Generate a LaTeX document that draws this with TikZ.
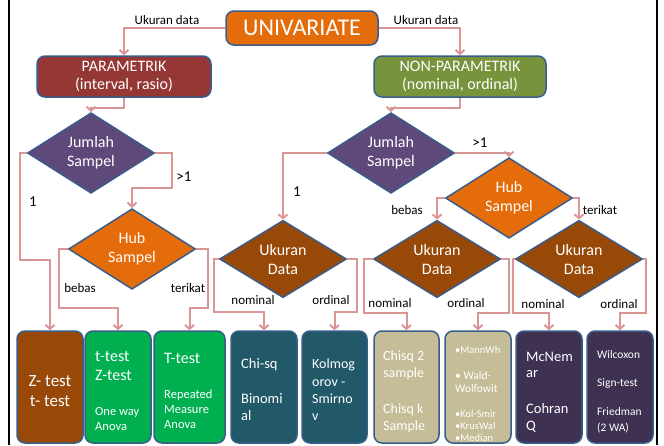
\documentclass[tikz,border=0pt]{standalone}
\usepackage{fontspec}
\setmainfont{Carlito}
\usetikzlibrary{shapes.geometric,arrows.meta}

\definecolor{cUniv}{HTML}{E46C0A}
\definecolor{cParam}{HTML}{953735}
\definecolor{cNon}{HTML}{77933C}
\definecolor{cJum}{HTML}{5F497A}
\definecolor{cUkur}{HTML}{984807}
\definecolor{cGreen}{HTML}{00B050}
\definecolor{cTeal}{HTML}{215968}
\definecolor{cTan}{HTML}{C4BD97}
\definecolor{cPurp}{HTML}{3F3151}
\definecolor{edge}{HTML}{385D8A}
\definecolor{link}{HTML}{DA9694}

\newcommand\fs[2]{\fontsize{#1}{#2}\selectfont}
% one line of white text inside a result box, placed by its baseline
\newcommand\bline[6][base west]{\node[anchor=#1, inner sep=0pt, text=white, font=\fs{#5}{#5}] (#2) at (#3,#4) {#6};}

\begin{document}
\begin{tikzpicture}[x=1pt, y=-1pt,
  rbox/.style={draw=edge, line width=1.5pt, rounded corners=8pt, inner sep=0pt},
  dia/.style={diamond, draw=edge, line width=1.5pt, minimum width=127pt, minimum height=71pt,
              inner sep=0pt, text=white, align=center, font=\fs{16}{19}},
  res/.style={rbox, minimum width=66pt, minimum height=112pt},
  conn/.style={draw=link, line width=2pt, -{Straight Barb[length=4pt,width=9pt]}},
  lbl/.style={inner sep=0pt, text=black, font=\fs{13}{15}},
  num/.style={inner sep=0pt, text=black, font=\fs{15}{17}}]
\useasboundingbox (0,0) rectangle (664,445);

% page frame sides
\draw[line width=2pt] (8.5,0) -- (8.5,445);
\draw[line width=2pt] (657,0) -- (657,445);

% top level
\node[rbox, fill=cUniv, minimum width=152pt, minimum height=34pt, text=white, font=\fs{24}{28}] (univ) at (302,28) {UNIVARIATE};
\node[rbox, fill=cParam, minimum width=174pt, minimum height=41pt, text=white, align=center, font=\fs{16}{18}] (param) at (124,76.5) {PARAMETRIK\\(interval, rasio)};
\node[rbox, fill=cNon, minimum width=172pt, minimum height=41pt, text=white, align=center, font=\fs{16}{18}] (nonparam) at (460,76.5) {NON-PARAMETRIK\\(nominal, ordinal)};

% decisions
\node[dia, fill=cJum] (j1) at (91,153) {Jumlah\\Sampel};
\node[dia, fill=cJum] (j2) at (391,153) {Jumlah\\Sampel};
\node[dia, fill=cUniv] (h1) at (132,249) {Hub\\Sampel};
\node[dia, fill=cUniv] (h2) at (509,198) {Hub\\Sampel};
\node[dia, fill=cUkur] (u1) at (283,259) {Ukuran\\Data};
\node[dia, fill=cUkur] (u2) at (437,259) {Ukuran\\Data};
\node[dia, fill=cUkur] (u3) at (579,259) {Ukuran\\Data};

% result boxes
\node[res, fill=cUkur] (b1) at (50,387) {};
\node[res, fill=cGreen] (b2) at (118,387) {};
\node[res, fill=cGreen, minimum width=71pt] (b3) at (189.5,387) {};
\node[res, fill=cTeal] (b4) at (264,387) {};
\node[res, fill=cTeal, minimum width=65pt] (b5) at (334.5,387) {};
\node[res, fill=cTan, minimum width=65pt] (b6) at (406.5,387) {};
\node[res, fill=cTan] (b7) at (478,387) {};
\node[res, fill=cPurp] (b8) at (549,387) {};
\node[res, fill=cPurp] (b9) at (620,387) {};

% box texts
\bline[base]{t1a}{50}{386}{17}{Z- test}
\bline[base]{t1b}{50}{406}{17}{t- test}
\bline{t2a}{95}{361}{16}{t-test}
\bline{t2b}{95}{380}{16}{Z-test}
\bline{t2c}{95}{415}{12.5}{One way}
\bline{t2d}{95}{430}{12.5}{Anova}
\bline{t3a}{164}{363}{16}{T-test}
\bline{t3b}{164}{398}{12.5}{Repeated}
\bline{t3c}{164}{413}{12.5}{Measure}
\bline{t3d}{164}{428}{12.5}{Anova}
\bline{t4a}{241}{368}{14.5}{Chi-sq}
\bline{t4b}{241}{403}{14.5}{Binomi}
\bline{t4c}{241}{420}{14.5}{al}
\bline{t5a}{312}{368}{14}{Kolmog}
\bline{t5b}{312}{386}{14}{orov -}
\bline{t5c}{312}{403}{14}{Smirno}
\bline{t5d}{312}{420}{14}{v}
\bline{t6a}{383}{360}{14}{Chisq 2}
\bline{t6b}{383}{377}{14}{sample}
\bline{t6c}{383}{413}{14}{Chisq k}
\bline{t6d}{383}{430}{14}{Sample}
\bline{t7a}{455}{353}{10.5}{•MannWh}
\bline{t7b}{455}{379}{11.5}{• Wald-}
\bline{t7c}{455}{392}{11.5}{Wolfowit}
\bline{t7d}{455}{417}{10.5}{•Kol-Smir}
\bline{t7e}{455}{429}{10.5}{•KrusWal}
\bline{t7f}{455}{441}{10.5}{•Median}
\bline{t8a}{526}{361}{14.5}{McNem}
\bline{t8b}{526}{377}{14.5}{ar}
\bline{t8c}{526}{413}{14.5}{Cohran}
\bline{t8d}{526}{430}{14.5}{Q}
\bline{t9a}{597}{358}{11.5}{Wilcoxon}
\bline{t9b}{597}{386}{11.5}{Sign-test}
\bline{t9c}{597}{415}{11.5}{Friedman}
\bline{t9d}{597}{431}{11.5}{(2 WA)}

% connectors
\draw[conn] (univ.west) -| (param.north);
\draw[conn] (univ.east) -| (nonparam.north);
\draw[conn] (param.south) -- ++(0,10) -| (j1.north);
\draw[conn] (nonparam.south) -- ++(0,10) -| (j2.north);
\draw[conn] (j1.west) -- ++(-7,0) -- ++(0,107) -| (b1.north);
\draw[conn] (j1.east) -- ++(17,0) -- ++(0,35) -| (h1.north);
\draw[conn] (h1.west) -- ++(-9,0) -- ++(0,59) -| (b2.north);
\draw[conn] (h1.east) -- ++(12,0) -- ++(0,59) -| (b3.north);
\draw[conn] (j2.west) -| (u1.north);
\draw[conn] (j2.east) -| (h2.north);
\draw[conn] (h2.west) -| (u2.north);
\draw[conn] (h2.east) -| (u3.north);
\draw[conn] (u1.west) -- ++(-5,0) -- ++(0,53) -| (b4.north);
\draw[conn] (u1.east) -- ++(10,0) -- ++(0,53) -| (b5.north);
\draw[conn] (u2.west) -- ++(-8.5,0) -- ++(0,54) -| (b6.north);
\draw[conn] (u2.east) -- ++(7.5,0) -- ++(0,54) -| (b7.north);
\draw[conn] (u3.west) -- ++(-1.5,0) -- ++(0,54) -| (b8.north);
\draw[conn] (u3.east) -- ++(2.5,0) -- ++(0,54) -| (b9.north);

% connector labels
\node[lbl] (lu1) at (167,20) {Ukuran data};
\node[lbl] (lu2) at (426,20) {Ukuran data};
\node[num] (n1a) at (33,202) {1};
\node[num] (n1b) at (184,177) {>1};
\node[num] (n2a) at (297,192) {1};
\node[num] (n2b) at (480,143) {>1};
\node[lbl] (e1) at (80,288) {bebas};
\node[lbl] (e2) at (188,288) {terikat};
\node[lbl] (e3) at (407,210) {bebas};
\node[lbl] (e4) at (600,210) {terikat};
\node[lbl] (m1) at (253,300) {nominal};
\node[lbl] (m2) at (331,300) {ordinal};
\node[lbl] (m3) at (390,303) {nominal};
\node[lbl] (m4) at (466,303) {ordinal};
\node[lbl] (m5) at (543,304) {nominal};
\node[lbl] (m6) at (619,304) {ordinal};
\end{tikzpicture}
\end{document}
